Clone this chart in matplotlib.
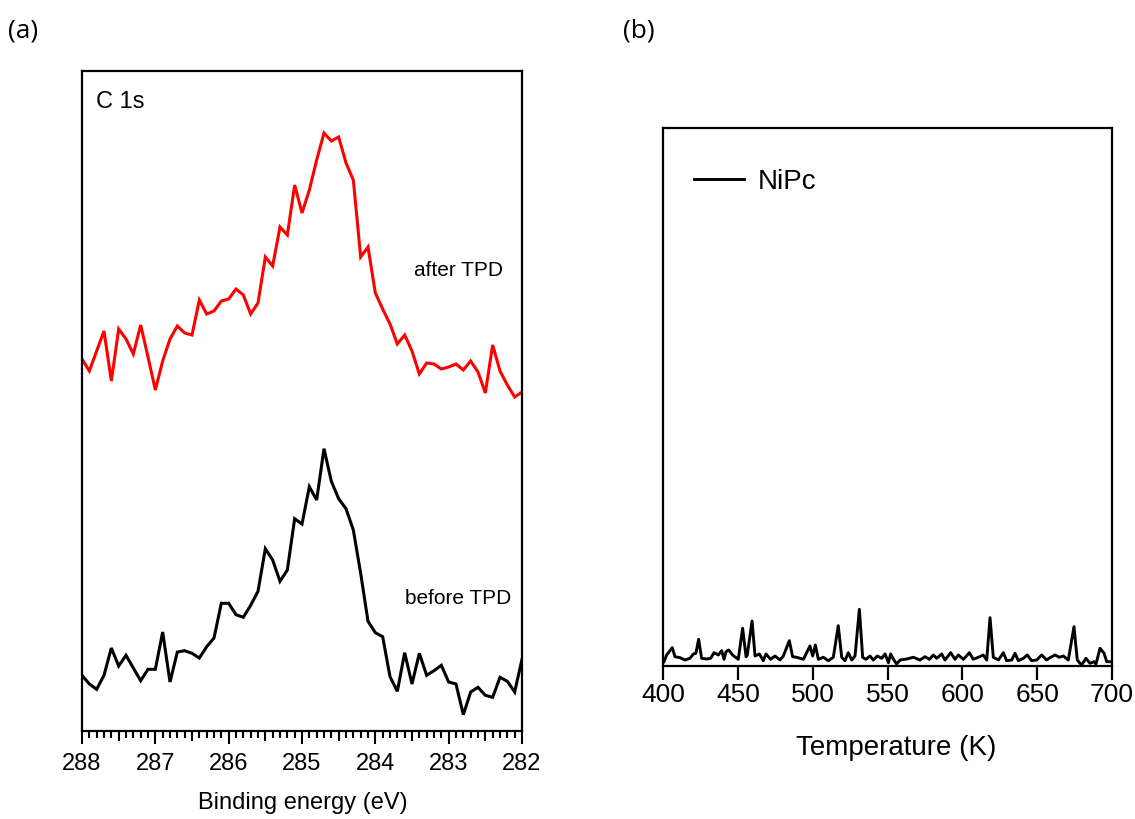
import numpy as np
import matplotlib
matplotlib.use("Agg")
import matplotlib.pyplot as plt
from matplotlib.ticker import FixedLocator, FuncFormatter

plt.rcParams['font.family'] = ['Liberation Sans', 'DejaVu Sans']

# ---------------- Panel (a): XPS C 1s ----------------
binding_energy = np.round(np.linspace(288.0, 282.0, 61), 1)
after_tpd = [372, 360, 380, 400, 350, 402, 392, 377, 406, 374,
             341, 370, 392, 405, 398, 396, 431, 417, 420, 430,
             432, 442, 436, 417, 428, 474, 465, 504, 496, 546,
             518, 541, 571, 598, 590, 594, 568, 551, 474, 484,
             438, 422, 407, 387, 396, 380, 357, 368, 367, 362,
             364, 367, 361, 370, 359, 338, 386, 360, 346, 334, 339]
before_tpd = [55.7, 47, 41.7, 55.7, 83, 65, 75.7, 63, 50.3, 61.7,
              61.7, 99, 49, 79, 80.3, 77.7, 73, 84.3, 93, 127.7,
              127.7, 116.3, 113.7, 125.7, 139.7, 182.3, 171, 149.7, 161, 212.3,
              207, 244.3, 231, 282.3, 249.7, 232.3, 222.3, 201, 157.7, 109.7,
              98.3, 94.3, 54.3, 39.7, 78.3, 47, 77.7, 55.7, 60.3, 65.7,
              49, 47, 16.3, 39, 43.7, 35.7, 33.7, 53.7, 49.7, 39, 71.7]
a_xticks = [288, 287, 286, 285, 284, 283, 282]

# ---------------- Panel (b): TPD ----------------
temperature = [400.7, 402.4, 406.2, 408.0, 411.4, 414.7, 418.0, 420.3, 422.0, 423.8,
               425.8, 429.2, 431.8, 434.1, 437.0, 439.2, 440.8, 442.1, 443.9, 446.5,
               450.3, 453.2, 455.5, 456.3, 459.5, 461.5, 464.4, 467.0, 468.8, 471.9,
               474.8, 478.2, 480.4, 484.4, 486.6, 489.3, 493.8, 498.2, 500.0, 501.8,
               503.8, 507.1, 510.5, 513.8, 517.1, 519.4, 521.6, 523.8, 526.1, 528.3,
               531.2, 533.4, 535.6, 538.3, 540.5, 543.2, 546.1, 548.4, 550.6, 552.1,
               554.3, 556.1, 558.4, 562.8, 567.3, 571.7, 575.1, 578.0, 580.6, 582.9,
               586.2, 588.4, 592.2, 595.1, 597.3, 600.7, 604.7, 607.3, 610.7, 614.0,
               616.3, 618.5, 620.7, 624.1, 627.4, 629.6, 633.0, 635.2, 637.4, 640.8,
               643.4, 646.3, 649.7, 653.0, 656.3, 659.0, 661.9, 664.8, 667.5, 670.8,
               674.6, 676.8, 679.7, 682.6, 685.3, 688.0, 689.3, 692.0, 694.7, 696.5, 698.7]
nipc_signal = [4.3, 11, 18.3, 9.3, 8.3, 6, 7.7, 12, 12.7, 26.7,
               7.7, 7, 7.7, 13.3, 11, 15.3, 6.7, 14.3, 16, 11,
               6.7, 37.7, 9.3, 11, 45, 10, 12, 5.3, 12, 6.7,
               10, 6, 10, 25.3, 9.3, 8.7, 6.7, 20, 10, 21,
               6.7, 8.7, 5.3, 8.7, 40.3, 8.7, 5.3, 13.3, 6, 10,
               56.7, 8.7, 6.7, 10, 6, 10, 7.7, 12, 3.3, 12,
               6, 2, 6, 7, 8.7, 6, 9.3, 6.7, 11, 7.7,
               12, 6, 13.3, 6.7, 11, 6.7, 13.3, 6.7, 8.7, 11,
               6, 48.3, 8.7, 6, 13.3, 5.3, 6, 12.7, 5.3, 7.7,
               11, 5.3, 6, 11, 6, 8.7, 11, 8.7, 10, 6,
               39.3, 6, 1, 7.7, 2.7, 4.3, 2, 17.7, 12.7, 4.3, 4.3]
b_xticks = [400, 450, 500, 550, 600, 650, 700]

W, H = 1135, 819
fig = plt.figure(figsize=(W / 100, H / 100), dpi=100)

# ---- axes (a)
axa = fig.add_axes([82 / W, 1 - 731 / H, 440 / W, 660 / H])
axa.plot(binding_energy, after_tpd, color='#ff0000', lw=2.2, solid_joinstyle='miter')
axa.plot(binding_energy, before_tpd, color='black', lw=2.2, solid_joinstyle='miter')
axa.set_xlim(288, 282)
axa.set_ylim(0, 660)
axa.set_yticks([])
major_pos = [e for e in binding_energy if abs(e * 2 - round(e * 2)) < 0.01]
minor_pos = [e for e in binding_energy if abs(e * 2 - round(e * 2)) > 0.01]
axa.xaxis.set_major_locator(FixedLocator(major_pos))
axa.xaxis.set_minor_locator(FixedLocator(minor_pos))
axa.xaxis.set_major_formatter(FuncFormatter(
    lambda v, p: f'{int(round(v))}' if abs(v - round(v)) < 0.01 else ''))
axa.tick_params(axis='x', which='major', direction='out', length=9.5, width=1.5,
                labelsize=17, pad=6)
axa.tick_params(axis='x', which='minor', direction='out', length=5, width=1.5)
for s in axa.spines.values():
    s.set_linewidth(1.6)
fig.text(96 / W, 1 - 102 / H, 'C 1s', fontsize=17, ha='left', va='center')
fig.text(458 / W, 1 - 270 / H, 'after TPD', fontsize=15, ha='center', va='center')
fig.text(458 / W, 1 - 599 / H, 'before TPD', fontsize=15, ha='center', va='center')
fig.text(303 / W, 1 - 803 / H, 'Binding energy (eV)', fontsize=17,
         ha='center', va='center')

# ---- axes (b)
axb = fig.add_axes([663 / W, 1 - 666 / H, 449 / W, 538 / H])
axb.plot(temperature, nipc_signal, color='black', lw=2.1, label='NiPc')
axb.set_xlim(400, 700)
axb.set_ylim(0, 538)
axb.set_yticks([])
axb.set_xticks(b_xticks)
axb.tick_params(axis='x', direction='out', length=10, width=1.6, labelsize=19, pad=2)
for s in axb.spines.values():
    s.set_linewidth(1.6)
leg = axb.legend(loc='upper left', bbox_to_anchor=(20 / 449, 1 - 30 / 538),
                 frameon=False, fontsize=20, handlelength=1.8, handletextpad=0.5,
                 borderaxespad=0)
fig.text(896 / W, 1 - 748 / H, 'Temperature (K)', fontsize=20,
         ha='center', va='center')

# ---- panel letters
fig.text(8 / W, 1 - 31 / H, '(a)', fontsize=19, family=['Open Sans', 'DejaVu Sans'],
         ha='left', va='center')
fig.text(623 / W, 1 - 31 / H, '(b)', fontsize=19, family=['Open Sans', 'DejaVu Sans'],
         ha='left', va='center')

# half-eV ticks get an intermediate length
fig.canvas.draw()
locs = axa.xaxis.get_majorticklocs()
for loc, tick in zip(locs, axa.xaxis.get_major_ticks(len(locs))):
    if abs(loc - round(loc)) > 0.01:
        tick.tick1line.set_markersize(7)

fig.savefig('out.png', dpi=100)
